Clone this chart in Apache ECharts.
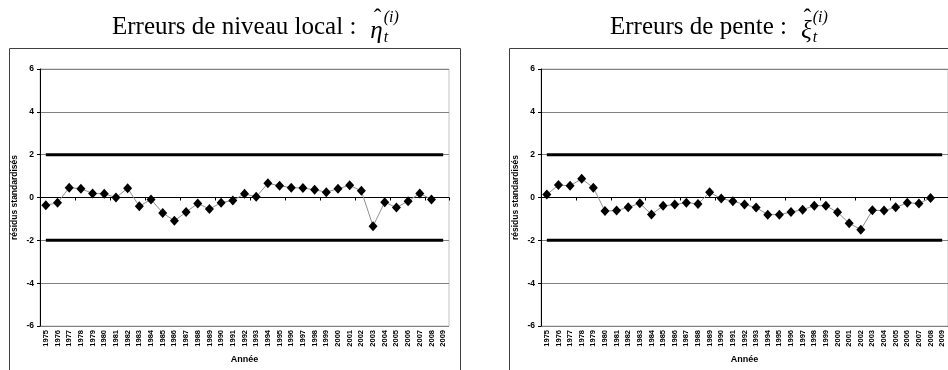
<!DOCTYPE html>
<html><head><meta charset="utf-8">
<script src="https://cdn.jsdelivr.net/npm/echarts@6/dist/echarts.min.js"></script>
<style>html,body{margin:0;padding:0;background:#fff}#c{width:948px;height:370px}</style>
</head><body><div id="c"></div>
<script>
// ---- data ----
const years = ['1975','1976','1977','1978','1979','1980','1981','1982','1983','1984','1985','1986','1987','1988','1989','1990','1991','1992','1993','1994','1995','1996','1997','1998','1999','2000','2001','2002','2003','2004','2005','2006','2007','2008','2009'];
const niveauLocal = [-0.36,-0.25,0.46,0.41,0.19,0.17,0.00,0.43,-0.41,-0.09,-0.72,-1.09,-0.68,-0.28,-0.54,-0.24,-0.14,0.17,0.03,0.66,0.55,0.46,0.44,0.36,0.25,0.41,0.57,0.31,-1.34,-0.22,-0.47,-0.17,0.19,-0.09,null];
const pente = [0.14,0.58,0.55,0.87,0.46,-0.63,-0.61,-0.46,-0.27,-0.79,-0.39,-0.33,-0.24,-0.30,0.24,-0.05,-0.17,-0.33,-0.47,-0.80,-0.80,-0.68,-0.57,-0.38,-0.38,-0.69,-1.20,-1.50,-0.60,-0.61,-0.46,-0.25,-0.28,-0.02,null];
const upperBound = [2,2,2,2,2,2,2,2,2,2,2,2,2,2,2,2,2,2,2,2,2,2,2,2,2,2,2,2,2,2,2,2,2,2,2];
const lowerBound = [-2,-2,-2,-2,-2,-2,-2,-2,-2,-2,-2,-2,-2,-2,-2,-2,-2,-2,-2,-2,-2,-2,-2,-2,-2,-2,-2,-2,-2,-2,-2,-2,-2,-2,-2];
const yMin = -6, yMax = 6, yStep = 2;
const yName = 'résidus standardisés';
const xName = 'Année';
const titleLeft = 'Erreurs de niveau local :';
const titleRight = 'Erreurs de pente :';

// ---- helpers ----
const cv = document.createElement('canvas').getContext('2d');
function tw(t, f){ cv.font = f; return cv.measureText(t).width; }
const TF = '25px "Liberation Serif"';
const MF = 'italic 25px "Liberation Serif"';
const SF = 'italic 16px "Liberation Serif"';

function gridAxes(gi){
  const y = {
    gridIndex: gi, type: 'value', min: yMin, max: yMax, interval: yStep,
    axisLine: {show: true, lineStyle: {color: '#000', width: 1}},
    axisTick: {show: true, length: 3, lineStyle: {color: '#000'}},
    axisLabel: {color: '#000', fontFamily: 'Liberation Sans', fontWeight: 'bold', fontSize: 8.5, margin: 6},
    splitLine: {show: true, lineStyle: {color: '#808080', width: 1}},
    name: yName, nameLocation: 'middle', nameGap: 21, nameRotate: 90,
    nameTextStyle: {color: '#000', fontFamily: 'Liberation Sans', fontWeight: 'bold', fontSize: 8.5}
  };
  const xl = {
    gridIndex: gi, type: 'category', data: years, position: 'bottom', boundaryGap: true,
    axisLine: {show: false, onZero: false}, axisTick: {show: false}, splitLine: {show: false},
    axisLabel: {rotate: 90, interval: 0, color: '#000', fontFamily: 'Liberation Sans', fontWeight: 'bold', fontSize: 7.5, margin: 4},
    name: xName, nameLocation: 'middle', nameGap: 26,
    nameTextStyle: {color: '#000', fontFamily: 'Liberation Sans', fontWeight: 'bold', fontSize: 9}
  };
  const xz = {
    gridIndex: gi, type: 'category', data: years, position: 'bottom', boundaryGap: true,
    axisLine: {show: true, onZero: true, lineStyle: {color: '#000', width: 1}},
    axisTick: {show: true, length: 3, inside: false, lineStyle: {color: '#000'}},
    axisLabel: {show: false}, splitLine: {show: false}
  };
  return {y, xl, xz};
}
const a0 = gridAxes(0), a1 = gridAxes(1);

function seriesFor(gi, values){
  const xi = gi*2;
  return [
    {type: 'line', xAxisIndex: xi, yAxisIndex: gi, data: upperBound, symbol: 'none', silent: true, z: 2,
     lineStyle: {color: '#000', width: 3}},
    {type: 'line', xAxisIndex: xi, yAxisIndex: gi, data: lowerBound, symbol: 'none', silent: true, z: 2,
     lineStyle: {color: '#000', width: 3}},
    {type: 'line', xAxisIndex: xi, yAxisIndex: gi, data: values, symbol: 'diamond', symbolSize: [9, 10], z: 3,
     showSymbol: true, connectNulls: false,
     lineStyle: {color: '#909090', width: 1}, itemStyle: {color: '#000', borderWidth: 0}}
  ];
}

function titleGraphics(x0, word, greek){
  const w = tw(word, TF);
  const gx = x0 + w + 14;
  const gw = tw(greek, MF);
  const sx = gx + gw + 1;
  return [
    {type: 'text', x: x0, y: 27, style: {text: word, font: TF, fill: '#000', verticalAlign: 'middle'}},
    {type: 'text', x: gx, y: 31, style: {text: greek, font: MF, fill: '#000', verticalAlign: 'middle'}},
    {type: 'text', x: gx + gw/2 + 1, y: 19, style: {text: 'ˆ', font: '23px "Liberation Serif"', fill: '#000', align: 'center', verticalAlign: 'middle'}},
    {type: 'text', x: sx, y: 18, style: {text: '(i)', font: SF, fill: '#000', verticalAlign: 'middle'}},
    {type: 'text', x: sx, y: 38, style: {text: 't', font: SF, fill: '#000', verticalAlign: 'middle'}}
  ];
}

const chart = echarts.init(document.getElementById('c'));
chart.setOption({
  animation: false,
  backgroundColor: '#fff',
  grid: [
    {left: 40, top: 69, width: 409, height: 257, show: true, borderColor: '#c0c0c0', borderWidth: 1, backgroundColor: 'transparent'},
    {left: 541, top: 69, width: 408, height: 257, show: true, borderColor: '#c0c0c0', borderWidth: 1, backgroundColor: 'transparent'}
  ],
  xAxis: [a0.xl, a0.xz, Object.assign({}, a1.xl, {gridIndex: 1}), Object.assign({}, a1.xz, {gridIndex: 1})],
  yAxis: [a0.y, a1.y],
  series: [].concat(seriesFor(0, niveauLocal), seriesFor(1, pente)),
  graphic: [
    {type: 'rect', shape: {x: 9.5, y: 48.5, width: 451, height: 340}, style: {fill: 'none', stroke: '#404040', lineWidth: 1}, silent: true},
    {type: 'rect', shape: {x: 509.5, y: 48.5, width: 460, height: 340}, style: {fill: 'none', stroke: '#404040', lineWidth: 1}, silent: true}
  ].concat(titleGraphics(112, titleLeft, 'η'), titleGraphics(610, titleRight, 'ξ'))
});
</script>
</body></html>
